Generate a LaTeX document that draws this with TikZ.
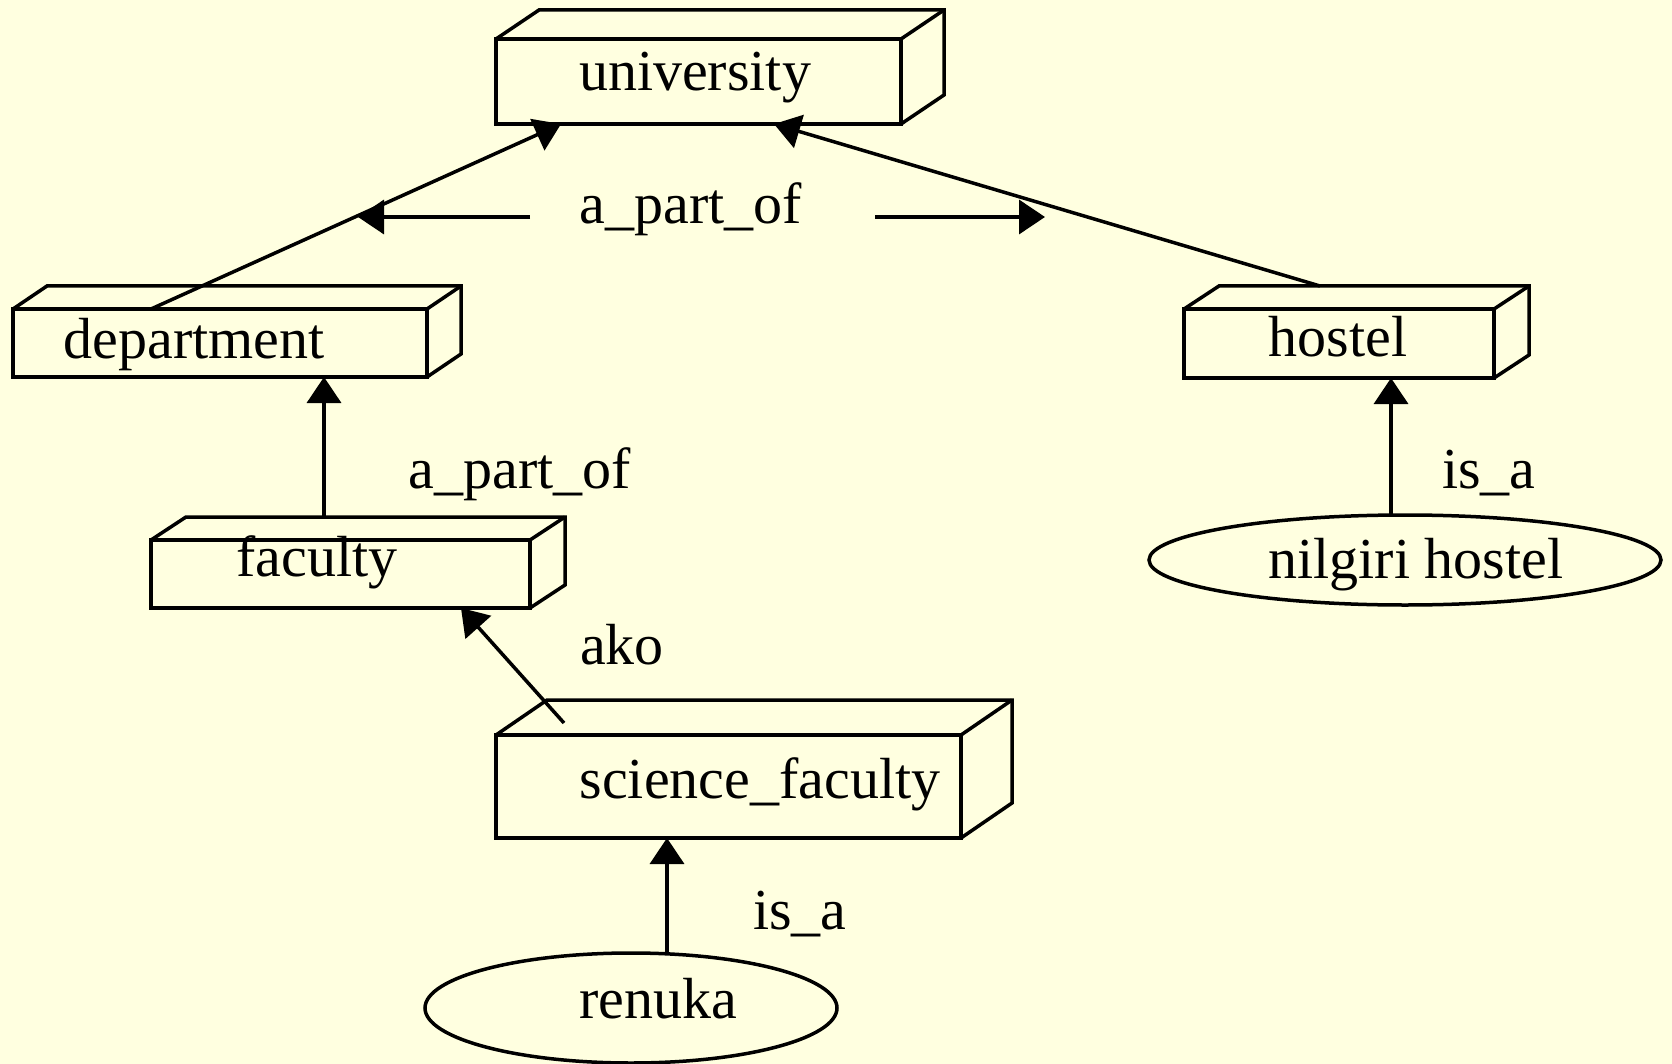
\documentclass[tikz,border=0pt]{standalone}
\usepackage{fontspec}
\setmainfont{Liberation Serif}
\usetikzlibrary{arrows.meta,calc,shapes.geometric}
\definecolor{bgyellow}{RGB}{255,255,224}
\tikzset{
  boxline/.style={draw=black, line width=3.5pt, line join=miter},
  boxnode/.style={boxline, rectangle, inner sep=0pt, outer sep=0pt},
  ellnode/.style={boxline, ellipse, inner sep=0pt, outer sep=0pt},
  txt/.style={anchor=base, inner sep=0pt, font=\fontsize{58}{68}\selectfont},
  conn/.style={draw=black, line width=3.5pt, -{Triangle[length=26pt,width=34pt]}},
}
\newcommand{\threed}[3]{%
  \draw[boxline] (#1.north west) -- ++(#2,-#3) -- ($(#1.north east)+(#2,-#3)$)
     -- ($(#1.south east)+(#2,-#3)$) -- (#1.south east);
  \draw[boxline] (#1.north east) -- ++(#2,-#3);
}
\begin{document}
\begin{tikzpicture}[x=1pt,y=-1pt]
\fill[bgyellow] (0,0) rectangle (1672,1064);
\useasboundingbox (0,0) rectangle (1672,1064);

% boxes
\node[boxnode, minimum width=405pt, minimum height=85pt] (univ) at (698.5,81.5) {};
\threed{univ}{43}{29}
\node[boxnode, minimum width=414pt, minimum height=68pt] (dept) at (220,343) {};
\threed{dept}{34}{23}
\node[boxnode, minimum width=310pt, minimum height=69pt] (hostel) at (1339,343.5) {};
\threed{hostel}{35}{23}
\node[boxnode, minimum width=379pt, minimum height=68pt] (fac) at (340.5,574) {};
\threed{fac}{35}{23}
\node[boxnode, minimum width=465pt, minimum height=103pt] (scifac) at (728.5,786.5) {};
\threed{scifac}{51}{35}

% ellipses
\node[ellnode, minimum width=512pt, minimum height=90pt] (nilgiri) at (1405,560) {};
\node[ellnode, minimum width=412pt, minimum height=110pt] (renuka) at (631,1008) {};

% texts
\node[txt] (univ-t) at (695,91) {university};
\node[txt] (dept-t) at (194,358) {department};
\node[txt] (hostel-t) at (1338,356) {hostel};
\node[txt] (fac-t) at (317,576) {faculty};
\node[txt] (scifac-t) at (760,798) {science\_faculty};
\node[txt] (nilgiri-t) at (1416,578) {nilgiri hostel};
\node[txt] (renuka-t) at (658,1018) {renuka};

% edge labels
\node[txt] (lbl-top) at (691,224) {a\_part\_of};
\node[txt] (lbl-mid) at (520,488) {a\_part\_of};
\node[txt] (lbl-isa1) at (1489,488) {is\_a};
\node[txt] (lbl-ako) at (622,664) {ako};
\node[txt] (lbl-isa2) at (800,929) {is\_a};

% connector end points
\coordinate (d-start) at ($(dept.north west)+(138,0)$);
\coordinate (u-left) at ($(univ.south west)+(65,0)$);
\coordinate (h-start) at ($(hostel.north west)+(136,-23)$);
\coordinate (u-right) at ($(univ.south west)+(278,0)$);
\coordinate (f-start) at ($(fac.north west)+(173,-23)$);
\coordinate (d-end) at ($(dept.south west)+(311,0)$);
\coordinate (s-start) at (564,723);
\coordinate (f-end) at ($(fac.south west)+(310,0)$);
\coordinate (r-start) at (667,954);
\coordinate (s-end) at ($(scifac.south west)+(171,0)$);
\coordinate (n-start) at (1391,516);
\coordinate (h-end) at ($(hostel.south west)+(207,0)$);
\coordinate (la-from) at (530,217);
\coordinate (la-to) at (358,217);
\coordinate (ra-from) at (875,217);
\coordinate (ra-to) at (1045,217);

% connectors
\draw[conn] (d-start) -- (u-left);
\draw[conn] (h-start) -- (u-right);
\draw[conn] (f-start) -- (d-end);
\draw[conn] (s-start) -- (f-end);
\draw[conn] (r-start) -- (s-end);
\draw[conn] (n-start) -- (h-end);
\draw[conn] (la-from) -- (la-to);
\draw[conn] (ra-from) -- (ra-to);
\end{tikzpicture}
\end{document}
